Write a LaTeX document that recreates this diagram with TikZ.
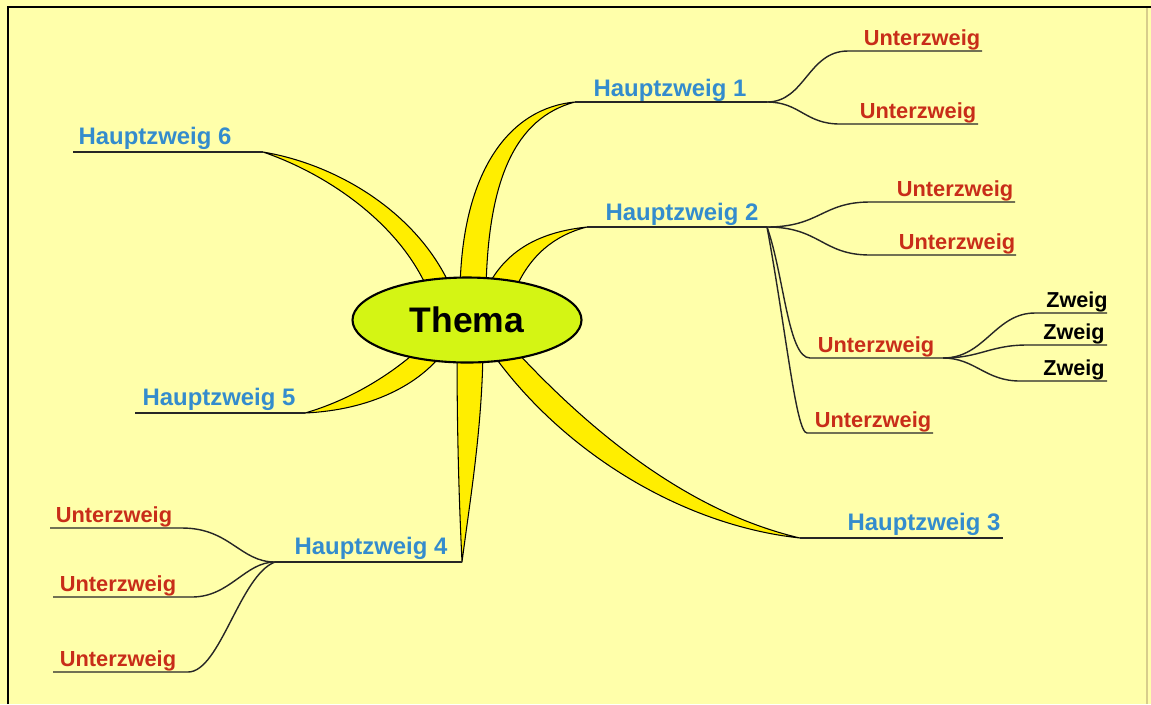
\documentclass[tikz,border=0pt]{standalone}
\usepackage{fontspec}
\setsansfont{Liberation Sans}
\usetikzlibrary{shapes.geometric}
\definecolor{bgyellow}{RGB}{255,255,170}
\definecolor{hblue}{RGB}{52,140,205}
\definecolor{ured}{RGB}{200,45,25}
\definecolor{wyellow}{RGB}{255,238,0}
\definecolor{thfill}{RGB}{212,245,20}
\definecolor{edgetan}{RGB}{215,205,140}
\tikzset{
  hz/.style={font=\sffamily\bfseries\fontsize{13.6}{15}\selectfont, text=hblue, inner sep=0pt, anchor=base},
  uz/.style={font=\sffamily\bfseries\fontsize{12.4}{14}\selectfont, text=ured, inner sep=0pt, anchor=base},
  zw/.style={font=\sffamily\bfseries\fontsize{12.3}{14}\selectfont, text=black, inner sep=0pt, anchor=base},
  ln/.style={line width=0.8pt, draw=black!85},
  wedge/.style={fill=wyellow, draw=black, line width=0.6pt, line join=round},
  thema/.style={ellipse, draw=black, line width=1.2pt, fill=thfill, minimum width=229\pxu, minimum height=85\pxu, inner sep=0pt, font=\sffamily\bfseries\fontsize{20.2}{22}\selectfont},
}
\newlength{\pxu}
\setlength{\pxu}{0.02cm}
\begin{document}
\begin{tikzpicture}[x=0.02cm,y=-0.02cm]
\useasboundingbox (0,0) rectangle (1151,704);
\fill[bgyellow] (0,0) rectangle (1151,704);
% frame
\draw[line width=1.2pt, black] (8,704) -- (8,7) -- (1151,7);
\draw[line width=0.8pt, edgetan] (1147,8) -- (1147,704);

% ---- coordinates of underlines ----
\coordinate (h1a) at (575,102); \coordinate (h1b) at (767,102);
\coordinate (h2a) at (587,227); \coordinate (h2b) at (767,227);
\coordinate (h3a) at (800,538); \coordinate (h3b) at (1003,538);
\coordinate (h4a) at (275,562); \coordinate (h4b) at (462,562);
\coordinate (h5a) at (135,413); \coordinate (h5b) at (305,413);
\coordinate (h6a) at (73,152);  \coordinate (h6b) at (263,152);

\coordinate (u1aa) at (848,51);  \coordinate (u1ab) at (982,51);
\coordinate (u1ba) at (840,124); \coordinate (u1bb) at (978,124);
\coordinate (u2aa) at (870,202); \coordinate (u2ab) at (1015,202);
\coordinate (u2ba) at (870,255); \coordinate (u2bb) at (1016,255);
\coordinate (u2ca) at (810,358); \coordinate (u2cb) at (943,358);
\coordinate (u2da) at (807,433); \coordinate (u2db) at (933,433);
\coordinate (u4aa) at (50,528);  \coordinate (u4ab) at (182,528);
\coordinate (u4ba) at (53,597);  \coordinate (u4bb) at (192,597);
\coordinate (u4ca) at (53,672);  \coordinate (u4cb) at (188,672);
\coordinate (z1a) at (1035,313); \coordinate (z1b) at (1107,313);
\coordinate (z2a) at (1027,345); \coordinate (z2b) at (1107,345);
\coordinate (z3a) at (1020,381); \coordinate (z3b) at (1107,381);

% ---- yellow main branches ----
\draw[wedge] (h1a) .. controls (510,108) and (462,170) .. (460,290) -- (486,290) .. controls (488,180) and (515,118) .. (h1a) -- cycle;
\draw[wedge] (h2a) .. controls (540,232) and (505,250) .. (486,290) -- (515,290) .. controls (530,255) and (555,235) .. (h2a) -- cycle;
\draw[wedge] (h6b) .. controls (340,165) and (420,215) .. (452,290) -- (428,290) .. controls (400,225) and (330,175) .. (h6b) -- cycle;
\draw[wedge] (h5b) .. controls (350,400) and (390,375) .. (418,350) -- (445,350) .. controls (420,385) and (370,410) .. (h5b) -- cycle;
\draw[wedge] (h4b) .. controls (460,520) and (457,450) .. (457,350) -- (483,350) .. controls (482,430) and (470,500) .. (h4b) -- cycle;
\draw[wedge] (h3a) .. controls (680,510) and (580,420) .. (515,350) -- (490,350) .. controls (560,450) and (680,525) .. (h3a) -- cycle;

% ---- central topic ----
\node[thema] (thema) at (467,320) {Thema};

% ---- main underlines ----
\foreach \a/\b in {h1a/h1b,h2a/h2b,h3a/h3b,h4a/h4b,h5a/h5b,h6a/h6b}
  \draw[ln] (\a) -- (\b);

% ---- sub branches ----
\draw[ln] (h1b) .. controls (805,102) and (808,51) .. (u1aa) -- (u1ab);
\draw[ln] (h1b) .. controls (800,102) and (805,124) .. (u1ba) -- (u1bb);
\draw[ln] (h2b) .. controls (820,227) and (822,202) .. (u2aa) -- (u2ab);
\draw[ln] (h2b) .. controls (820,227) and (822,255) .. (u2ba) -- (u2bb);
\draw[ln] (h2b) .. controls (784,275) and (788,358) .. (u2ca) -- (u2cb);
\draw[ln] (h2b) .. controls (786,330) and (796,433) .. (u2da) -- (u2db);
\draw[ln] (u2cb) .. controls (985,358) and (995,313) .. (z1a) -- (z1b);
\draw[ln] (u2cb) .. controls (980,358) and (990,345) .. (z2a) -- (z2b);
\draw[ln] (u2cb) .. controls (975,358) and (985,381) .. (z3a) -- (z3b);
\draw[ln] (h4a) .. controls (240,562) and (230,528) .. (u4ab) -- (u4aa);
\draw[ln] (h4a) .. controls (245,562) and (230,597) .. (u4bb) -- (u4ba);
\draw[ln] (h4a) .. controls (240,575) and (220,672) .. (u4cb) -- (u4ca);

% ---- labels ----
\node[hz] (l1) at (670,96)  {Hauptzweig 1};
\node[hz] (l2) at (682,220) {Hauptzweig 2};
\node[hz] (l3) at (924,530) {Hauptzweig 3};
\node[hz] (l4) at (371,554) {Hauptzweig 4};
\node[hz] (l5) at (219,405) {Hauptzweig 5};
\node[hz] (l6) at (155,144) {Hauptzweig 6};

\node[uz] (t1a) at (922,45)  {Unterzweig};
\node[uz] (t1b) at (918,118) {Unterzweig};
\node[uz] (t2a) at (955,196) {Unterzweig};
\node[uz] (t2b) at (957,249) {Unterzweig};
\node[uz] (t2c) at (876,352) {Unterzweig};
\node[uz] (t2d) at (873,427) {Unterzweig};
\node[uz] (t4a) at (114,522) {Unterzweig};
\node[uz] (t4b) at (118,591) {Unterzweig};
\node[uz] (t4c) at (118,666) {Unterzweig};

\node[zw] (w1) at (1077,307) {Zweig};
\node[zw] (w2) at (1074,339) {Zweig};
\node[zw] (w3) at (1074,375) {Zweig};
\end{tikzpicture}
\end{document}
